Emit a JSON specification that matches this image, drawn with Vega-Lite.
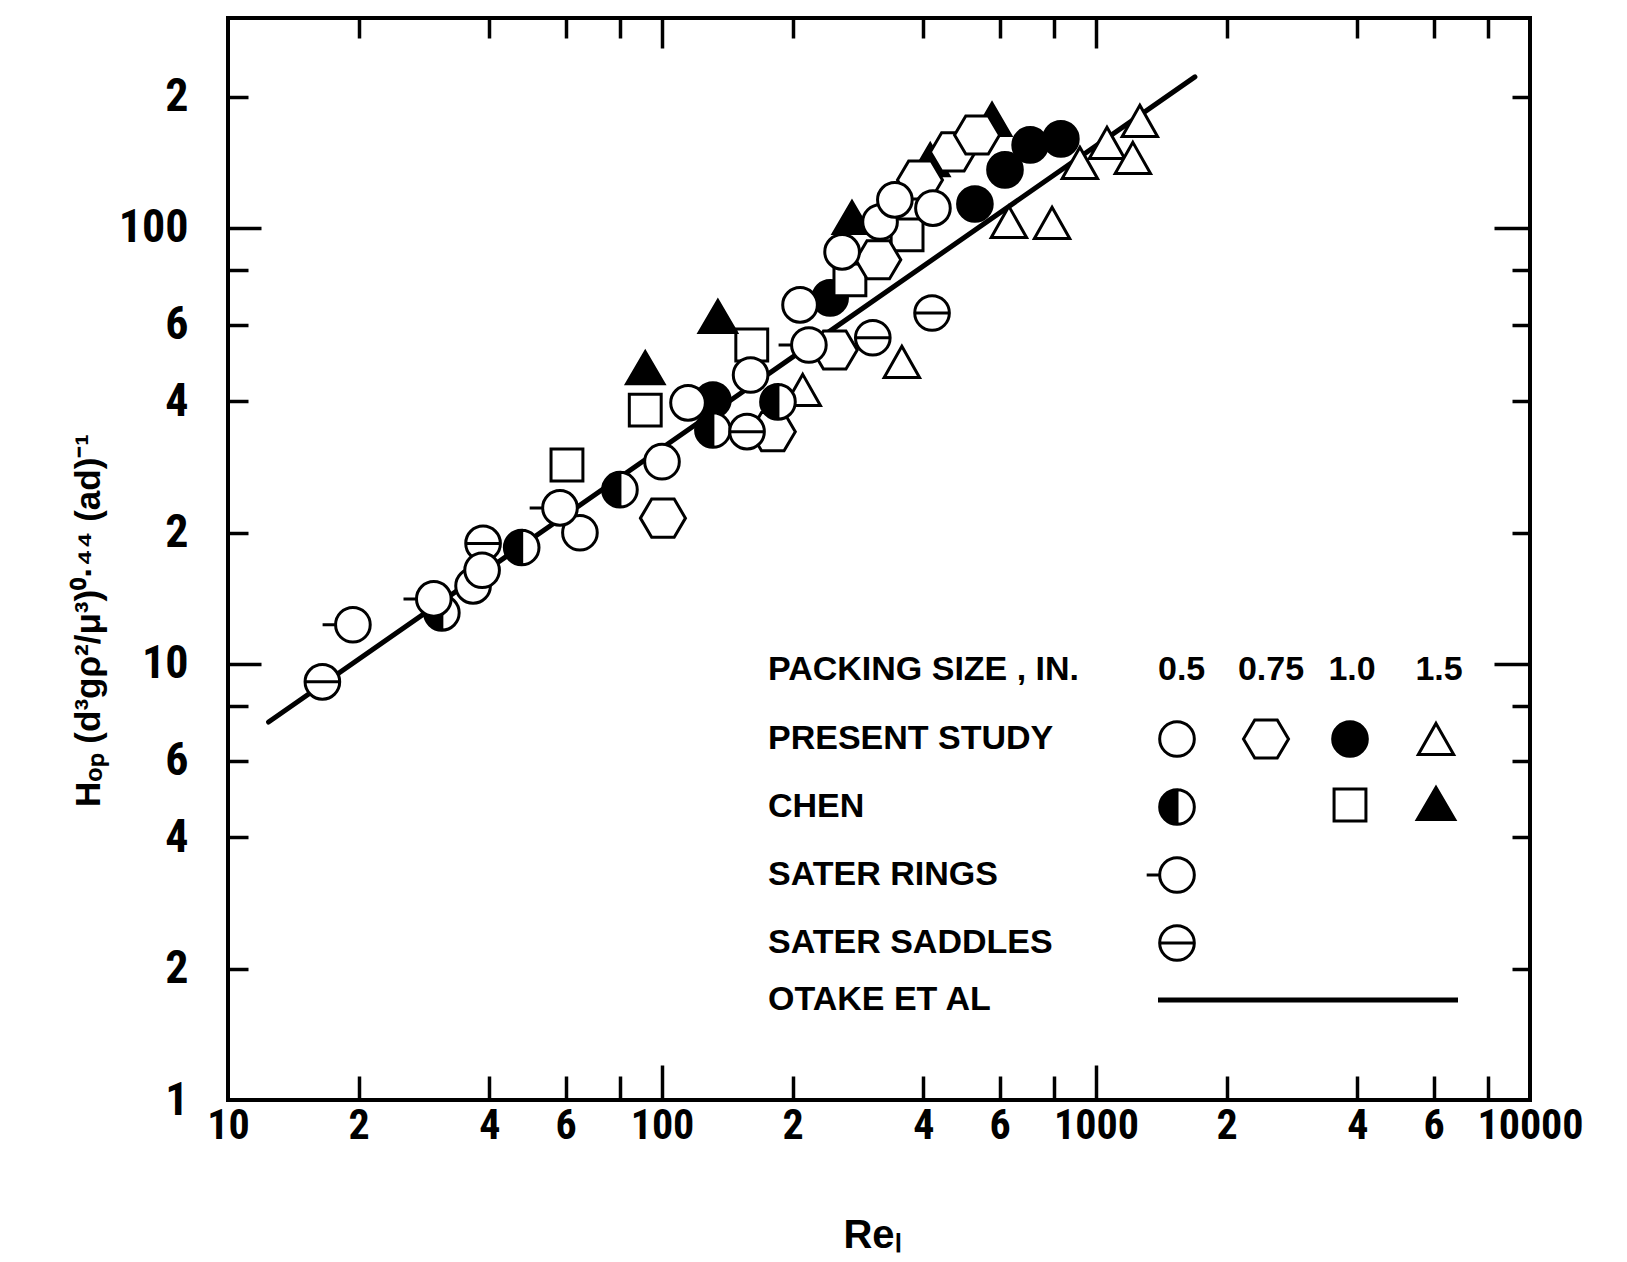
{
  "$schema": "https://vega.github.io/schema/vega-lite/v6.json",
  "autosize": {"type": "none"},
  "padding": {"left": 228, "top": 18, "right": 97, "bottom": 162},
  "width": 1302,
  "height": 1082,
  "background": "white",
  "config": {
    "view": {"stroke": "black", "strokeWidth": 4},
    "axis": {"grid": false, "domain": false, "labelColor": "black", "titleColor": "black", "tickColor": "black", "tickWidth": 3.5},
    "legend": {"labelColor": "black", "titleColor": "black", "labelFont": "Liberation Sans", "titleFont": "Liberation Sans", "labelFontWeight": "bold", "titleFontWeight": "bold", "labelFontSize": 34, "titleFontSize": 34, "labelLimit": 700, "titleLimit": 700, "padding": 0}
  },
  "datasets": {
    "pts": [
      {"source": "PRESENT STUDY", "packing": "1.0", "Re": 131, "H": 40.3},
      {"source": "PRESENT STUDY", "packing": "1.0", "Re": 244, "H": 69.1},
      {"source": "PRESENT STUDY", "packing": "1.0", "Re": 526, "H": 113.5},
      {"source": "PRESENT STUDY", "packing": "1.0", "Re": 617, "H": 135.9},
      {"source": "PRESENT STUDY", "packing": "1.0", "Re": 705, "H": 155},
      {"source": "PRESENT STUDY", "packing": "1.0", "Re": 830, "H": 160},
      {"source": "CHEN", "packing": "1.0", "Re": 60.4, "H": 28.6},
      {"source": "CHEN", "packing": "1.0", "Re": 91.5, "H": 38.2},
      {"source": "CHEN", "packing": "1.0", "Re": 161, "H": 53.9},
      {"source": "CHEN", "packing": "1.0", "Re": 271, "H": 76},
      {"source": "CHEN", "packing": "1.0", "Re": 367, "H": 96.4},
      {"source": "CHEN", "packing": "1.5", "Re": 91.5, "H": 47.7},
      {"source": "CHEN", "packing": "1.5", "Re": 134.5, "H": 62.5},
      {"source": "CHEN", "packing": "1.5", "Re": 274, "H": 105.4},
      {"source": "CHEN", "packing": "1.5", "Re": 415, "H": 143},
      {"source": "CHEN", "packing": "1.5", "Re": 576, "H": 177},
      {"source": "PRESENT STUDY", "packing": "1.5", "Re": 211, "H": 42.5},
      {"source": "PRESENT STUDY", "packing": "1.5", "Re": 357, "H": 49.3},
      {"source": "PRESENT STUDY", "packing": "1.5", "Re": 630, "H": 103.2},
      {"source": "PRESENT STUDY", "packing": "1.5", "Re": 792, "H": 102.7},
      {"source": "PRESENT STUDY", "packing": "1.5", "Re": 918, "H": 141},
      {"source": "PRESENT STUDY", "packing": "1.5", "Re": 1060, "H": 156.7},
      {"source": "PRESENT STUDY", "packing": "1.5", "Re": 1216, "H": 144.7},
      {"source": "PRESENT STUDY", "packing": "1.5", "Re": 1262, "H": 176},
      {"source": "PRESENT STUDY", "packing": "0.75", "Re": 100.5, "H": 21.6},
      {"source": "PRESENT STUDY", "packing": "0.75", "Re": 180, "H": 34.1},
      {"source": "PRESENT STUDY", "packing": "0.75", "Re": 250, "H": 52.5},
      {"source": "PRESENT STUDY", "packing": "0.75", "Re": 315, "H": 84.5},
      {"source": "PRESENT STUDY", "packing": "0.75", "Re": 393, "H": 128.8},
      {"source": "PRESENT STUDY", "packing": "0.75", "Re": 468, "H": 149.4},
      {"source": "PRESENT STUDY", "packing": "0.75", "Re": 532, "H": 163.4},
      {"source": "CHEN", "packing": "0.5", "Re": 31.1, "H": 13.1},
      {"source": "CHEN", "packing": "0.5", "Re": 47.5, "H": 18.5},
      {"source": "CHEN", "packing": "0.5", "Re": 80, "H": 25.1},
      {"source": "CHEN", "packing": "0.5", "Re": 131, "H": 34.4},
      {"source": "CHEN", "packing": "0.5", "Re": 185, "H": 39.9},
      {"source": "SATER SADDLES", "packing": "0.5", "Re": 16.5, "H": 9.1},
      {"source": "SATER SADDLES", "packing": "0.5", "Re": 38.7, "H": 18.9},
      {"source": "SATER SADDLES", "packing": "0.5", "Re": 157, "H": 34.1},
      {"source": "SATER SADDLES", "packing": "0.5", "Re": 306, "H": 56.0},
      {"source": "SATER SADDLES", "packing": "0.5", "Re": 419, "H": 63.8},
      {"source": "PRESENT STUDY", "packing": "0.5", "Re": 36.7, "H": 15.1},
      {"source": "PRESENT STUDY", "packing": "0.5", "Re": 38.5, "H": 16.4},
      {"source": "PRESENT STUDY", "packing": "0.5", "Re": 64.7, "H": 20.0},
      {"source": "PRESENT STUDY", "packing": "0.5", "Re": 100, "H": 29.1},
      {"source": "PRESENT STUDY", "packing": "0.5", "Re": 114.8, "H": 39.7},
      {"source": "PRESENT STUDY", "packing": "0.5", "Re": 160, "H": 46.0},
      {"source": "PRESENT STUDY", "packing": "0.5", "Re": 208, "H": 66.6},
      {"source": "PRESENT STUDY", "packing": "0.5", "Re": 260, "H": 88.1},
      {"source": "PRESENT STUDY", "packing": "0.5", "Re": 318, "H": 103.2},
      {"source": "PRESENT STUDY", "packing": "0.5", "Re": 344, "H": 116},
      {"source": "PRESENT STUDY", "packing": "0.5", "Re": 421, "H": 111},
      {"source": "SATER RINGS", "packing": "0.5", "Re": 19.4, "H": 12.3},
      {"source": "SATER RINGS", "packing": "0.5", "Re": 29.8, "H": 14.1},
      {"source": "SATER RINGS", "packing": "0.5", "Re": 58.2, "H": 22.8},
      {"source": "SATER RINGS", "packing": "0.5", "Re": 218, "H": 53.9}
    ],
    "otake": [
      {"source": "OTAKE ET AL", "Re": 12.4, "H": 7.36},
      {"source": "OTAKE ET AL", "Re": 1690, "H": 222}
    ]
  },
  "resolve": {
    "scale": {"shape": "independent", "fill": "independent", "opacity": "independent", "stroke": "independent"},
    "axis": {"x": "independent", "y": "independent"}
  },
  "layer": [
    {
      "data": {"name": "otake"},
      "mark": {"type": "line", "strokeWidth": 5, "strokeCap": "round"},
      "encoding": {
        "x": {"field": "Re", "type": "quantitative", "scale": {"type": "log", "domain": [10, 10000], "nice": false},
          "axis": {"orient": "bottom", "values": [10, 20, 40, 60, 100, 200, 400, 600, 1000, 2000, 4000, 6000, 10000], "ticks": false, "tickSize": 0, "labelPadding": 5, "labelFlush": false, "labelOverlap": false, "labelBound": false,
            "labelFont": "Roboto Condensed, Liberation Sans Narrow, Open Sans Condensed, DejaVu Sans Condensed, Liberation Sans", "labelFontWeight": "bold", "labelFontSize": 42, "labelBaseline": "top",
            "labelExpr": "indexof([20,200,2000], datum.value) >= 0 ? '2' : indexof([40,400,4000], datum.value) >= 0 ? '4' : indexof([60,600,6000], datum.value) >= 0 ? '6' : '' + datum.value",
            "title": "Reₗ", "titleFont": "Liberation Sans", "titleFontWeight": "bold", "titleFontSize": 40, "titleX": 644, "titleY": 135, "titleAlign": "center", "titleBaseline": "middle"}},
        "y": {"field": "H", "type": "quantitative", "scale": {"type": "log", "domain": [1, 303], "nice": false},
          "axis": {"orient": "left", "values": [1, 2, 4, 6, 10, 20, 40, 60, 100, 200], "ticks": false, "tickSize": 0, "labelPadding": 40, "labelOverlap": false, "labelBound": false, "labelFlush": false,
            "labelFont": "Roboto Condensed, Liberation Sans Narrow, Open Sans Condensed, DejaVu Sans Condensed, Liberation Sans", "labelFontWeight": "bold", "labelFontSize": 46, "labelAlign": "right", "labelBaseline": "middle",
            "labelExpr": "datum.value == 20 || datum.value == 200 ? '2' : datum.value == 40 ? '4' : datum.value == 60 ? '6' : '' + datum.value",
            "title": "Hₒₚ (d³gρ²/μ³)⁰·⁴⁴ (ad)⁻¹", "titleFont": "Liberation Sans", "titleFontWeight": "bold", "titleFontSize": 35, "titleX": -140, "titleY": 602, "titleAngle": -90, "titleAlign": "center", "titleBaseline": "middle"}},
        "stroke": {"field": "source", "type": "nominal", "scale": {"range": ["black"]},
          "legend": {"orient": "none", "legendX": 927.5, "legendY": 829.5, "title": null, "symbolType": "stroke", "symbolSize": 90000, "symbolStrokeWidth": 5, "labelAlign": "left", "labelOffset": -692.5, "labelBaseline": "middle"}}
      }
    },
    {
      "data": {"name": "pts"},
      "transform": [{"filter": "datum.packing == '1.0'"}],
      "mark": {"type": "point", "filled": true, "opacity": 1, "size": 1200, "strokeWidth": 3},
      "encoding": {
        "x": {"field": "Re", "type": "quantitative", "scale": {"type": "log", "domain": [10, 10000], "nice": false},
          "axis": {"orient": "bottom", "values": [100, 1000], "labels": false, "tickSize": -35, "title": null}},
        "y": {"field": "H", "type": "quantitative", "scale": {"type": "log", "domain": [1, 303], "nice": false},
          "axis": {"orient": "left", "values": [10, 100], "labels": false, "tickSize": -33, "title": null}},
        "stroke": {"value": "black"},
        "shape": {"field": "source", "type": "nominal",
          "scale": {"domain": ["PRESENT STUDY", "CHEN"], "range": ["circle", "M-0.92,-0.92L0.92,-0.92L0.92,0.92L-0.92,0.92Z"]},
          "legend": {"orient": "none", "legendX": 1100, "legendY": 635, "direction": "vertical", "columns": 1, "title": "1.0", "titleOrient": "top", "titleAnchor": "middle", "titleAlign": "center", "titlePadding": 33, "rowPadding": 20, "symbolSize": 1200, "symbolStrokeWidth": 3, "labelExpr": "''", "labelOffset": 0}},
        "fill": {"field": "source", "type": "nominal",
          "scale": {"domain": ["PRESENT STUDY", "CHEN"], "range": ["black", "white"]},
          "legend": {"orient": "none", "legendX": 1100, "legendY": 635, "direction": "vertical", "columns": 1, "title": "1.0", "titleOrient": "top", "titleAnchor": "middle", "titleAlign": "center", "titlePadding": 33, "rowPadding": 20, "symbolSize": 1200, "symbolStrokeWidth": 3, "labelExpr": "''", "labelOffset": 0}},
        "opacity": {"field": "packing", "type": "nominal", "scale": {"domain": ["1.0"], "range": [1]},
          "legend": {"orient": "none", "legendX": 540, "legendY": 635, "title": "PACKING SIZE , IN.", "titleOrient": "top", "titleAnchor": "start", "titleAlign": "left", "symbolType": "M0,0", "labelExpr": "''"}}
      }
    },
    {
      "data": {"name": "pts"},
      "transform": [{"filter": "datum.packing == '1.5'"}],
      "mark": {"type": "point", "filled": true, "opacity": 1, "size": 1200, "strokeWidth": 3},
      "encoding": {
        "x": {"field": "Re", "type": "quantitative", "scale": {"type": "log", "domain": [10, 10000], "nice": false},
          "axis": {"orient": "bottom", "values": [20, 40, 60, 80, 200, 400, 600, 800, 2000, 4000, 6000, 8000], "labels": false, "tickSize": -24, "title": null}},
        "y": {"field": "H", "type": "quantitative", "scale": {"type": "log", "domain": [1, 303], "nice": false},
          "axis": {"orient": "left", "values": [2, 4, 6, 8, 20, 40, 60, 80, 200], "labels": false, "tickSize": -20, "title": null}},
        "stroke": {"value": "black"},
        "shape": {"field": "source", "type": "nominal",
          "scale": {"domain": ["PRESENT STUDY", "CHEN"], "range": ["M0,-0.9L1.02,0.9L-1.02,0.9Z", "M0,-0.95L1.08,0.9L-1.08,0.9Z"]},
          "legend": {"orient": "none", "legendX": 1187, "legendY": 635, "direction": "vertical", "columns": 1, "title": "1.5", "titleOrient": "top", "titleAnchor": "middle", "titleAlign": "center", "titlePadding": 33, "rowPadding": 20, "symbolSize": 1200, "symbolStrokeWidth": 3, "labelExpr": "''", "labelOffset": 0}},
        "fill": {"field": "source", "type": "nominal",
          "scale": {"domain": ["PRESENT STUDY", "CHEN"], "range": ["white", "black"]},
          "legend": {"orient": "none", "legendX": 1187, "legendY": 635, "direction": "vertical", "columns": 1, "title": "1.5", "titleOrient": "top", "titleAnchor": "middle", "titleAlign": "center", "titlePadding": 33, "rowPadding": 20, "symbolSize": 1200, "symbolStrokeWidth": 3, "labelExpr": "''", "labelOffset": 0}}
      }
    },
    {
      "data": {"name": "pts"},
      "transform": [{"filter": "datum.packing == '0.75'"}],
      "mark": {"type": "point", "filled": true, "opacity": 1, "size": 1200, "strokeWidth": 3},
      "encoding": {
        "x": {"field": "Re", "type": "quantitative", "scale": {"type": "log", "domain": [10, 10000], "nice": false},
          "axis": {"orient": "top", "values": [100, 1000], "labels": false, "tickSize": -30, "title": null}},
        "y": {"field": "H", "type": "quantitative", "scale": {"type": "log", "domain": [1, 303], "nice": false},
          "axis": {"orient": "right", "values": [10, 100], "labels": false, "tickSize": -36, "title": null}},
        "stroke": {"value": "black"},
        "shape": {"field": "source", "type": "nominal",
          "scale": {"domain": ["PRESENT STUDY"], "range": ["M-1.3,0L-0.65,-1.1L0.65,-1.1L1.3,0L0.65,1.1L-0.65,1.1Z"]},
          "legend": {"orient": "none", "legendX": 1010, "legendY": 635, "direction": "vertical", "columns": 1, "title": "0.75", "titleOrient": "top", "titleAnchor": "middle", "titleAlign": "center", "titlePadding": 33, "rowPadding": 20, "symbolSize": 1200, "symbolStrokeWidth": 3, "labelExpr": "''", "labelOffset": -19}},
        "fill": {"field": "source", "type": "nominal",
          "scale": {"domain": ["PRESENT STUDY"], "range": ["white"]},
          "legend": {"orient": "none", "legendX": 1010, "legendY": 635, "direction": "vertical", "columns": 1, "title": "0.75", "titleOrient": "top", "titleAnchor": "middle", "titleAlign": "center", "titlePadding": 33, "rowPadding": 20, "symbolSize": 1200, "symbolStrokeWidth": 3, "labelExpr": "''", "labelOffset": -19}}
      }
    },
    {
      "data": {"name": "pts"},
      "transform": [{"filter": "datum.packing == '0.5' && datum.source == 'CHEN'"}],
      "mark": {"type": "point", "filled": true, "opacity": 1, "size": 1200, "strokeWidth": 0, "shape": "circle", "fill": "white"},
      "encoding": {
        "x": {"field": "Re", "type": "quantitative", "scale": {"type": "log", "domain": [10, 10000], "nice": false},
          "axis": {"orient": "top", "values": [20, 40, 60, 80, 200, 400, 600, 800, 2000, 4000, 6000, 8000], "labels": false, "tickSize": -20, "title": null}},
        "y": {"field": "H", "type": "quantitative", "scale": {"type": "log", "domain": [1, 303], "nice": false},
          "axis": {"orient": "right", "values": [2, 4, 6, 8, 20, 40, 60, 80, 200], "labels": false, "tickSize": -18, "title": null}}
      }
    },
    {
      "data": {"name": "pts"},
      "transform": [{"filter": "datum.packing == '0.5'"}],
      "mark": {"type": "point", "filled": true, "opacity": 1, "size": 1200, "strokeWidth": 3},
      "encoding": {
        "x": {"field": "Re", "type": "quantitative", "scale": {"type": "log", "domain": [10, 10000], "nice": false}, "axis": null},
        "y": {"field": "H", "type": "quantitative", "scale": {"type": "log", "domain": [1, 303], "nice": false}, "axis": null},
        "stroke": {"value": "black"},
        "shape": {"field": "source", "type": "nominal",
          "scale": {"domain": ["PRESENT STUDY", "CHEN", "SATER RINGS", "SATER SADDLES"],
            "range": ["circle",
              "M0,-1C-0.5523,-1,-1,-0.5523,-1,0C-1,0.5523,-0.5523,1,0,1Z M0,-1C0.5523,-1,1,-0.5523,1,0C1,0.5523,0.5523,1,0,1C0.5523,1,1,0.5523,1,0C1,-0.5523,0.5523,-1,0,-1",
              "M0,-1C0.5523,-1,1,-0.5523,1,0C1,0.5523,0.5523,1,0,1C-0.5523,1,-1,0.5523,-1,0C-1,-0.5523,-0.5523,-1,0,-1Z M-1,0L-1.75,0",
              "M0,-1C0.5523,-1,1,-0.5523,1,0C1,0.5523,0.5523,1,0,1C-0.5523,1,-1,0.5523,-1,0C-1,-0.5523,-0.5523,-1,0,-1Z M-1,0L1,0"]},
          "legend": {"orient": "none", "legendX": 930, "legendY": 635, "direction": "vertical", "columns": 1, "title": "0.5", "titleOrient": "top", "titleAnchor": "start", "titleAlign": "left", "titlePadding": 33, "rowPadding": 20, "symbolSize": 1200, "symbolStrokeWidth": 3, "labelAlign": "left", "labelOffset": -428, "labelBaseline": "middle"}},
        "fill": {"field": "source", "type": "nominal",
          "scale": {"domain": ["PRESENT STUDY", "CHEN", "SATER RINGS", "SATER SADDLES"], "range": ["white", "black", "white", "white"]},
          "legend": {"orient": "none", "legendX": 930, "legendY": 635, "direction": "vertical", "columns": 1, "title": "0.5", "titleOrient": "top", "titleAnchor": "start", "titleAlign": "left", "titlePadding": 33, "rowPadding": 20, "symbolSize": 1200, "symbolStrokeWidth": 3, "labelAlign": "left", "labelOffset": -428, "labelBaseline": "middle"}}
      }
    }
  ]
}
